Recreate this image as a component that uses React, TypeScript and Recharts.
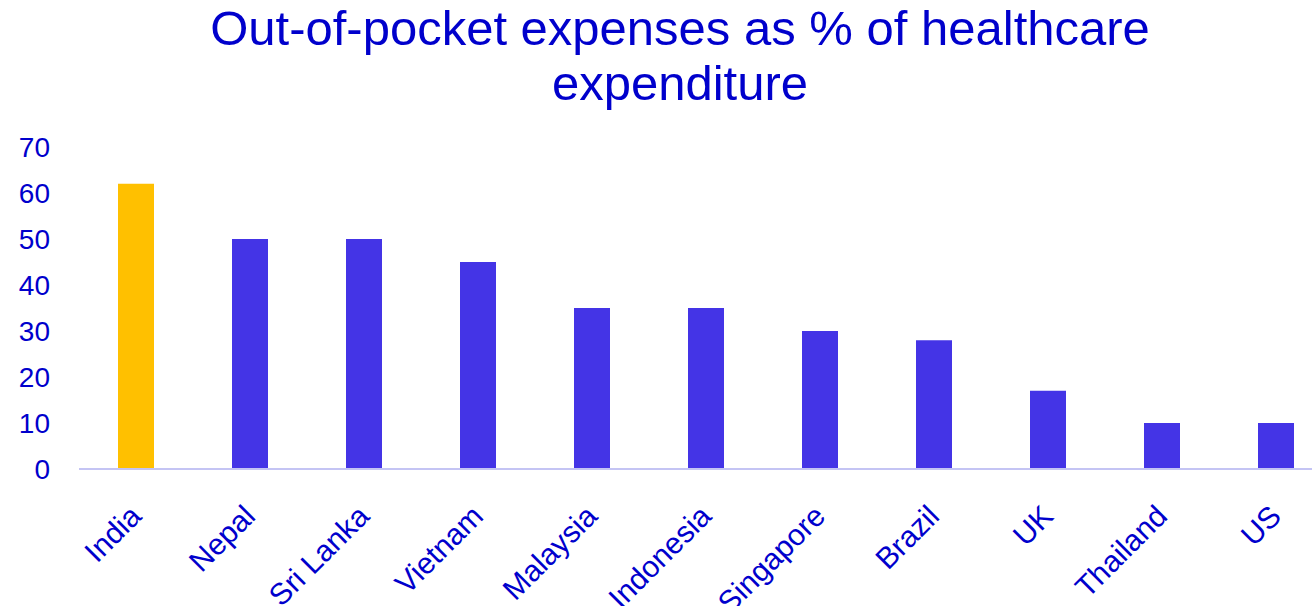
import { BarChart, Bar, XAxis, YAxis, Cell } from "recharts"

const countries = ["India", "Nepal", "Sri Lanka", "Vietnam", "Malaysia", "Indonesia", "Singapore", "Brazil", "UK", "Thailand", "US"]
const outOfPocket = [62, 50, 50, 45, 35, 35, 30, 28, 17, 10, 10]
const yTicks = [0, 10, 20, 30, 40, 50, 60, 70]

const TEXT_BLUE = "#0000CC"
const BAR_BLUE = "#4434E6"
const HIGHLIGHT = "#FFC000"
const FONT = "'Liberation Sans', Arial, sans-serif"

const data = countries.map((name, i) => ({ name, value: outOfPocket[i] }))

const CountryTick = ({ x, y, payload }: any) => {
    const ax = x + 7
    const ay = y + 41
    return (
        <text
            x={ax}
            y={ay}
            transform={`rotate(-45, ${ax}, ${ay})`}
            textAnchor="end"
            fill={TEXT_BLUE}
            fontSize={30}
            fontFamily={FONT}
        >
            {payload.value}
        </text>
    )
}

export default function App() {
    return (
        <div style={{ position: "absolute", left: 0, top: 0, width: 1312, height: 606, overflow: "hidden", background: "#fff" }}>
            <div
                style={{
                    position: "absolute",
                    left: 0,
                    top: 1,
                    width: 1360,
                    textAlign: "center",
                    color: TEXT_BLUE,
                    fontFamily: FONT,
                    fontSize: 49,
                    lineHeight: "55px",
                }}
            >
                Out-of-pocket expenses as % of healthcare
                <br />
                expenditure
            </div>
            <div style={{ position: "absolute", left: 0, top: 0 }}>
                <BarChart width={1333} height={606} data={data} margin={{ top: 147, right: 0, left: 0, bottom: 0 }} barCategoryGap={0}>
                    <YAxis
                        domain={[0, 70]}
                        ticks={yTicks}
                        width={79}
                        axisLine={false}
                        tickLine={false}
                        tickSize={0}
                        tickMargin={29}
                        interval={0}
                        tick={{ fill: TEXT_BLUE, fontSize: 28, fontFamily: FONT }}
                    />
                    <XAxis
                        dataKey="name"
                        interval={0}
                        tickLine={false}
                        axisLine={{ stroke: "#C4C4F4", strokeWidth: 2 }}
                        tick={<CountryTick />}
                        height={137}
                    />
                    <Bar dataKey="value" barSize={36} isAnimationActive={false}>
                        {data.map((d, i) => (
                            <Cell key={`cell-${i}`} fill={i === 0 ? HIGHLIGHT : BAR_BLUE} />
                        ))}
                    </Bar>
                </BarChart>
            </div>
        </div>
    )
}
